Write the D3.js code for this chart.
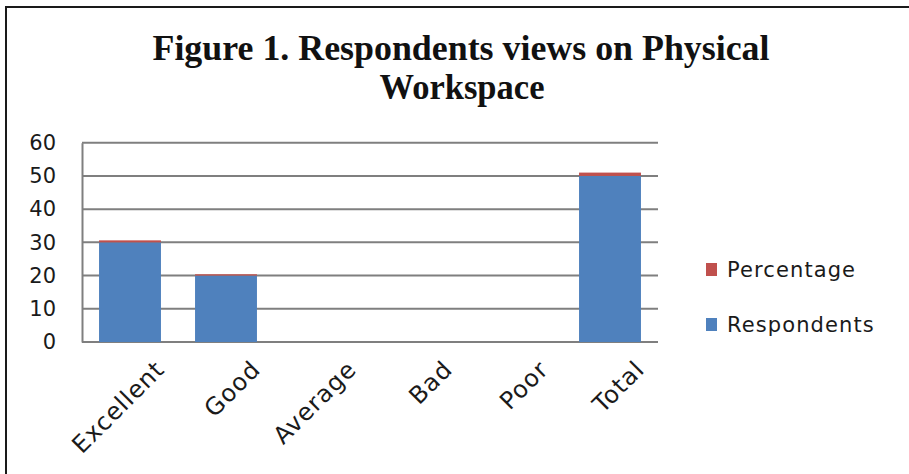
<!DOCTYPE html>
<html>
<head>
<meta charset="utf-8">
<script src="https://cdn.jsdelivr.net/npm/d3@7"></script>
<style>
  html, body { margin: 0; padding: 0; background: #fff; }
  svg { display: block; }
</style>
</head>
<body>
<svg id="chart" width="909" height="474"></svg>
<script>
const categories = ["Excellent", "Good", "Average", "Bad", "Poor", "Total"];
const respondents = [30, 20, 0, 0, 0, 50];
const percentage = [0.6, 0.4, 0, 0, 0, 1];
const seriesNames = ["Respondents", "Percentage"];
const yTicks = [0, 10, 20, 30, 40, 50, 60];
const titleLines = ["Figure  1. Respondents views on Physical", "Workspace"];

const colors = { Respondents: "#4F81BD", Percentage: "#C0504D" };

const svg = d3.select("#chart");
const W = 909, H = 474;

// outer frame
svg.append("rect").attr("x", 6).attr("y", 7).attr("width", W + 10).attr("height", H + 10)
  .attr("fill", "#fff").attr("stroke", "#1a1a1a").attr("stroke-width", 2);

const plot = { left: 82, right: 658, top: 142.7, bottom: 342 };

const x = d3.scaleBand().domain(categories).range([plot.left, plot.right]).paddingInner(0.355).paddingOuter(0.1775);
const y = d3.scaleLinear().domain([0, 60]).range([plot.bottom, plot.top]);

// title
const title = svg.append("g");
title.append("text").attr("x", 461).attr("y", 60).attr("text-anchor", "middle")
  .attr("font-family", "Liberation Serif, Times New Roman, serif").attr("font-weight", "bold")
  .attr("font-size", 35).attr("fill", "#111")
  .attr("textLength", 617).attr("lengthAdjust", "spacingAndGlyphs")
  .text(titleLines[0]);
title.append("text").attr("x", 462).attr("y", 99).attr("text-anchor", "middle")
  .attr("font-family", "Liberation Serif, Times New Roman, serif").attr("font-weight", "bold")
  .attr("font-size", 35).attr("fill", "#111")
  .attr("textLength", 165).attr("lengthAdjust", "spacingAndGlyphs")
  .text(titleLines[1]);

// gridlines
svg.append("g").selectAll("line").data(yTicks).join("line")
  .attr("x1", plot.left).attr("x2", plot.right)
  .attr("y1", d => y(d)).attr("y2", d => y(d))
  .attr("stroke", "#7f7f7f").attr("stroke-width", 2);

// y axis
const yAxis = d3.axisLeft(y).tickValues(yTicks).tickSize(0).tickPadding(26);
const gy = svg.append("g").attr("transform", `translate(${plot.left},0)`).call(yAxis);
gy.select(".domain").attr("stroke", "#7f7f7f").attr("stroke-width", 2);
gy.selectAll("text").attr("font-family", "DejaVu Sans, Verdana, sans-serif").attr("font-size", 21).attr("fill", "#1a1a1a");

// stacked bars
const table = categories.map((c, i) => ({ category: c, Respondents: respondents[i], Percentage: percentage[i] }));
const stack = d3.stack().keys(seriesNames)(table);
svg.append("g").selectAll("g").data(stack).join("g")
  .attr("fill", d => colors[d.key])
  .selectAll("rect").data(d => d).join("rect")
  .attr("x", d => x(d.data.category))
  .attr("width", x.bandwidth())
  .attr("y", d => y(d[1]))
  .attr("height", d => y(d[0]) - y(d[1]));

// x axis labels
const xAxis = d3.axisBottom(x).tickSize(0).tickPadding(0);
const gx = svg.append("g").attr("transform", `translate(0,${plot.bottom})`).call(xAxis);
gx.select(".domain").remove();
gx.selectAll("text")
  .attr("font-family", "DejaVu Sans, Verdana, sans-serif").attr("font-size", 24).attr("fill", "#1a1a1a")
  .attr("letter-spacing", 1)
  .attr("text-anchor", "end")
  .attr("transform", "translate(24,17) rotate(-45)")
  .attr("dy", "0.7em");

// legend
const legendItems = ["Percentage", "Respondents"];
const lg = svg.append("g").selectAll("g").data(legendItems).join("g")
  .attr("transform", (d, i) => `translate(706,${263 + i * 55})`);
lg.append("rect").attr("width", 11).attr("height", 13).attr("fill", d => colors[d]);
lg.append("text").attr("x", 21).attr("y", 14)
  .attr("font-family", "DejaVu Sans, Verdana, sans-serif").attr("font-size", 21).attr("fill", "#1a1a1a")
  .attr("letter-spacing", 1.1)
  .text(d => d);
</script>
</body>
</html>
